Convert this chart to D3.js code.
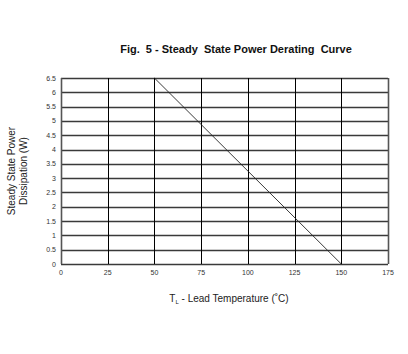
<!DOCTYPE html>
<html>
<head>
<meta charset="utf-8">
<script src="https://cdn.jsdelivr.net/npm/d3@7"></script>
<style>
body{margin:0;background:#fff;}
svg{display:block;font-family:Arial,"Liberation Sans",sans-serif;}
</style>
</head>
<body>
<svg id="c" width="408" height="354"></svg>
<script>
const xTicks = [0,25,50,75,100,125,150,175];
const yTicks = [0,0.5,1,1.5,2,2.5,3,3.5,4,4.5,5,5.5,6,6.5];
const yTickLabels = ["0","0.5","1","1.5","2","2.5","3","3.5","4","4.5","5","5.5","6","6.5"];
const curveTemp = [50,150];
const curvePower = [6.5,0];
const title = "Fig.  5 - Steady  State Power Derating  Curve";
const yTitle = ["Steady State Power","Dissipation (W)"];

(function(){
const svg = d3.select("#c");
const pL=61, pR=388, pT=78, pB=264;
const x = d3.scaleLinear().domain([0,175]).range([pL,pR]);
const y = d3.scaleLinear().domain([0,6.5]).range([pB,pT]);

// horizontal gridlines
svg.append("g").selectAll("line").data(yTicks).join("line")
  .attr("x1",pL).attr("x2",pR)
  .attr("y1",d=>Math.round(y(d))+0.5).attr("y2",d=>Math.round(y(d))+0.5)
  .attr("stroke","#3a3a3a").attr("stroke-width",1.4);
// vertical gridlines
svg.append("g").selectAll("line").data(xTicks).join("line")
  .attr("y1",pT).attr("y2",pB)
  .attr("x1",d=>Math.round(x(d))+0.5).attr("x2",d=>Math.round(x(d))+0.5)
  .attr("stroke",(d,i)=> (i===0||i===xTicks.length-1)?"#555":"#000")
  .attr("stroke-width",(d,i)=> (i===0||i===xTicks.length-1)?1.6:1);

// y tick labels
svg.append("g").selectAll("text").data(yTicks).join("text")
  .attr("x",pL-5).attr("y",d=>y(d)+2.5)
  .attr("text-anchor","end").attr("font-size",7).attr("fill","#333")
  .text((d,i)=>yTickLabels[i]);
// x tick labels
svg.append("g").selectAll("text").data(xTicks).join("text")
  .attr("x",d=>x(d)).attr("y",pB+11)
  .attr("text-anchor","middle").attr("font-size",7).attr("fill","#333")
  .text(d=>d);

// curve
const line = d3.line().x(d=>x(d[0])).y(d=>y(d[1]));
svg.append("path").datum(curveTemp.map((t,i)=>[t,curvePower[i]]))
  .attr("d",line).attr("fill","none").attr("stroke","#222").attr("stroke-width",0.9);

// title
svg.append("text").attr("x",236).attr("y",53).attr("text-anchor","middle")
  .attr("font-size",11).attr("font-weight","bold").attr("fill","#111")
  .style("white-space","pre").text(title);

// y title
const yt = svg.append("text").attr("transform","translate(15,171) rotate(-90)")
  .attr("text-anchor","middle").attr("font-size",10).attr("fill","#222");
yt.append("tspan").attr("x",0).attr("dy",0).text(yTitle[0]);
yt.append("tspan").attr("x",0).attr("dy",12).text(yTitle[1]);

// x title
const xt = svg.append("text").attr("x",229).attr("y",302).attr("text-anchor","middle")
  .attr("font-size",10).attr("fill","#222");
xt.append("tspan").text("T");
xt.append("tspan").attr("font-size",6).attr("dy",2).text("L");
xt.append("tspan").attr("dy",-2).text(" - Lead Temperature (˚C)");
})();
</script>
</body>
</html>
